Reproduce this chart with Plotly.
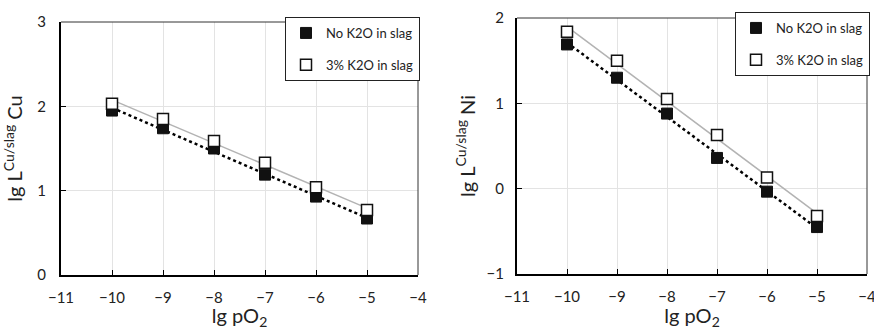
import numpy as np
import plotly.graph_objects as go

x_vals = [-10, -9, -8, -7, -6, -5]
cu_no_k2o = [1.95, 1.74, 1.50, 1.19, 0.93, 0.67]
cu_k2o = [2.03, 1.85, 1.59, 1.33, 1.04, 0.77]
ni_no_k2o = [1.69, 1.30, 0.88, 0.36, -0.035, -0.45]
ni_k2o = [1.84, 1.50, 1.05, 0.63, 0.13, -0.32]
series_names = ["No K2O in slag", "3% K2O in slag"]
x_ticks = [-11, -10, -9, -8, -7, -6, -5, -4]

W, H = 874, 330
FONT = "Lato, Open Sans, Arial, sans-serif"

fig = go.Figure()

def add_panel(xa, ya, y_no, y_k, legend, tag):
    xs = np.array(x_vals, dtype=float)
    for ys, color, dash, width in [(y_no, "black", "dot", 2.5), (y_k, "#b3b3b3", "solid", 1.5)]:
        a, b = np.polyfit(xs, np.array(ys), 1)
        fit = a * xs + b
        fig.add_trace(go.Scatter(x=xs, y=fit, mode="lines", xaxis=xa, yaxis=ya,
                                 line=dict(color=color, dash=dash, width=width),
                                 showlegend=False, hoverinfo="skip"))
    fig.add_trace(go.Scatter(x=x_vals, y=y_no, mode="markers", name=series_names[0],
                             xaxis=xa, yaxis=ya, legend=legend, legendgroup=tag + "a",
                             marker=dict(symbol="square", size=11, color="#111111",
                                         line=dict(color="#111111", width=1))))
    fig.add_trace(go.Scatter(x=x_vals, y=y_k, mode="markers", name=series_names[1],
                             xaxis=xa, yaxis=ya, legend=legend, legendgroup=tag + "b",
                             marker=dict(symbol="square", size=11, color="white",
                                         line=dict(color="#111111", width=1.5))))

add_panel("x", "y", cu_no_k2o, cu_k2o, "legend", "L")
add_panel("x2", "y2", ni_no_k2o, ni_k2o, "legend2", "R")

def px_dom_x(a, b):
    return [a / W, b / W]

def px_dom_y(top, bottom):
    return [1 - bottom / H, 1 - top / H]

axis_common = dict(showgrid=True, gridcolor="#e3e3e3", gridwidth=1,
                   showline=True, linecolor="black", linewidth=2,
                   ticks="inside", ticklen=5, tickcolor="black", tickwidth=1,
                   tickfont=dict(size=15, color="#222222", family=FONT),
                   zeroline=False, automargin=False, ticklabeloverflow="allow")

xt = dict(text="lg pO<sub>2</sub>", font=dict(size=20), standoff=4)
leg_common = dict(yanchor="top", bgcolor="white", bordercolor="#222222",
                  borderwidth=1, font=dict(size=13, family=FONT), itemwidth=30,
                  tracegroupgap=12, traceorder="grouped")

fig.update_layout(
    width=W, height=H, margin=dict(l=0, r=0, t=0, b=0, autoexpand=False),
    paper_bgcolor="white", plot_bgcolor="white",
    font=dict(family=FONT, color="#222222"),
    xaxis=dict(domain=px_dom_x(61, 418), range=[-11, -4], tickvals=x_ticks, anchor="y",
               ticklabelstandoff=8, title=xt, **axis_common),
    yaxis=dict(domain=px_dom_y(22, 275), range=[0, 3], tickvals=[0, 1, 2, 3], anchor="x",
               ticklabelstandoff=10,
               title=dict(text="lg L<sup>Cu/slag</sup> Cu", font=dict(size=20), standoff=10), **axis_common),
    xaxis2=dict(domain=px_dom_x(517, 867), range=[-11, -4], tickvals=x_ticks, anchor="y2",
                ticklabelstandoff=8, title=xt, **axis_common),
    yaxis2=dict(domain=px_dom_y(18, 274), range=[-1, 2], tickvals=[-1, 0, 1, 2], anchor="x2",
                ticklabelstandoff=8,
                title=dict(text="lg L<sup>Cu/slag</sup> Ni", font=dict(size=20), standoff=6), **axis_common),
    legend=dict(x=420 / W, xanchor="right", y=1 - 17 / H, **leg_common),
    legend2=dict(x=870 / W, xanchor="right", y=1 - 12 / H, **leg_common),
    showlegend=True,
)

for xr, yr in [("x domain", "y domain"), ("x2 domain", "y2 domain")]:
    fig.add_shape(type="line", xref=xr, yref=yr, x0=0, x1=1, y0=1, y1=1,
                  line=dict(color="#333333", width=1))
    fig.add_shape(type="line", xref=xr, yref=yr, x0=1, x1=1, y0=0, y1=1,
                  line=dict(color="#333333", width=1))

fig.write_html("out.html")
